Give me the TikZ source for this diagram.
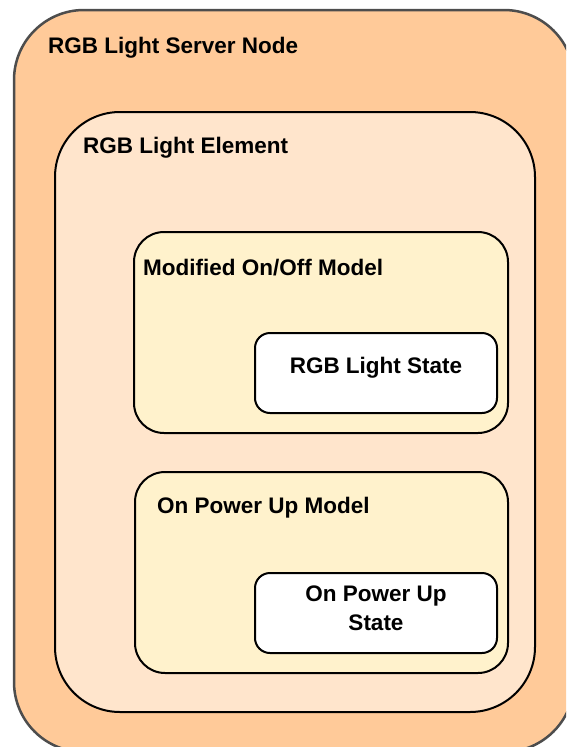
\documentclass[tikz,border=0pt]{standalone}
\usepackage{fontspec}
\setmainfont{Liberation Sans}
\definecolor{outerfill}{HTML}{FFCA99}
\definecolor{elemfill}{HTML}{FFE5CC}
\definecolor{modelfill}{HTML}{FFF2CC}
\definecolor{outerline}{HTML}{4D4D4D}
\begin{document}
\begin{tikzpicture}[x=1pt,y=-1pt,
  box/.style={draw=black,line width=2pt,inner sep=0pt,outer sep=0pt},
  lbl/.style={inner sep=0pt,anchor=west,font=\fontsize{22.5}{29}\selectfont\bfseries},
  ctr/.style={inner sep=0pt,align=center,font=\fontsize{22.5}{29}\selectfont\bfseries}]
\useasboundingbox (0,0) rectangle (566,747);
\clip (0,0) rectangle (566,747);
\node[box,draw=outerline,line width=2.5pt,fill=outerfill,rounded corners=70pt,minimum width=560pt,minimum height=742pt] (outer) at (294,381) {};
\node[lbl] (outerlbl) at (48,48) {RGB Light Server Node};
\node[box,fill=elemfill,rounded corners=65pt,minimum width=480pt,minimum height=600pt] (elem) at (295,412) {};
\node[lbl] (elemlbl) at (83,148) {RGB Light Element};
\node[box,fill=modelfill,rounded corners=30pt,minimum width=374pt,minimum height=201pt] (onoff) at (321,332.5) {};
\node[lbl] (onofflbl) at (143,268) {Modified On/Off Model};
\node[box,fill=white,rounded corners=15pt,minimum width=242pt,minimum height=80pt] (rgbstate) at (376,373) {};
\node[ctr] (rgbstatelbl) at (376,368) {RGB Light State};
\node[box,fill=modelfill,rounded corners=30pt,minimum width=373pt,minimum height=201pt] (pwr) at (321.5,572.5) {};
\node[lbl] (pwrlbl) at (157,508) {On Power Up Model};
\node[box,fill=white,rounded corners=15pt,minimum width=242pt,minimum height=80pt] (pwrstate) at (376,613) {};
\node[ctr] (pwrstatelbl) at (376,608) {On Power Up\\State};
\end{tikzpicture}
\end{document}
